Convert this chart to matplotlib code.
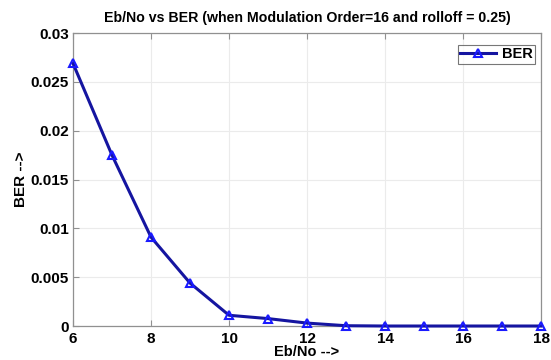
import numpy as np
import matplotlib.pyplot as plt

# BER vs Eb/No readings (Modulation Order=16, rolloff=0.25)
ebno = [6, 7, 8, 9, 10, 11, 12, 13, 14, 15, 16, 17, 18]
ber = [0.0269, 0.0175, 0.0091, 0.0044, 0.0011, 0.00076, 0.0003,
       0.00003, 0.0, 0.0, 0.0, 0.0, 0.0]
x_ticks = [6, 8, 10, 12, 14, 16, 18]
y_ticks = [0, 0.005, 0.01, 0.015, 0.02, 0.025, 0.03]
y_labels = ["0", "0.005", "0.01", "0.015", "0.02", "0.025", "0.03"]

plt.rcParams["font.family"] = ["Liberation Sans", "DejaVu Sans"]
plt.rcParams["font.weight"] = "bold"

fig = plt.figure(figsize=(5.51, 3.6), dpi=100)
ax = fig.add_axes([0.1325, 0.0944, 0.8495, 0.8136])

ax.plot(ebno, ber, color="#1515a0", linewidth=2.2, marker="^",
        markersize=6, markerfacecolor="none", markeredgecolor="#1a1aff",
        markeredgewidth=1.5, label="BER", clip_on=False, zorder=3)

ax.set_xlim(6, 18)
ax.set_ylim(0, 0.03)
ax.set_xticks(x_ticks)
ax.set_yticks(y_ticks)
ax.set_yticklabels(y_labels)
ax.tick_params(direction="in", length=4, color="#909090", labelsize=11,
               top=True, right=False)
ax.tick_params(axis="x", pad=4)
ax.tick_params(axis="y", pad=3)
ax.grid(True, color="#ebebeb", linewidth=0.8)
for s in ax.spines.values():
    s.set_color("#909090")
    s.set_linewidth(0.9)

ax.set_title("Eb/No vs BER (when Modulation Order=16 and rolloff = 0.25)",
             fontsize=10.2, fontweight="bold", pad=8)
ax.set_xlabel("Eb/No -->", fontsize=10.5, fontweight="bold")
ax.xaxis.set_label_coords(0.5, -0.066)
ax.set_ylabel("BER -->", fontsize=11, fontweight="bold", labelpad=2)

leg = ax.legend(loc="upper right", bbox_to_anchor=(0.987, 0.959),
                fontsize=10.5, frameon=True, fancybox=False,
                handlelength=2.5, handletextpad=0.4, borderaxespad=0,
                borderpad=0.15)
leg.get_frame().set_edgecolor("#555555")
leg.get_frame().set_linewidth(0.8)

fig.savefig("out.png", dpi=100)
